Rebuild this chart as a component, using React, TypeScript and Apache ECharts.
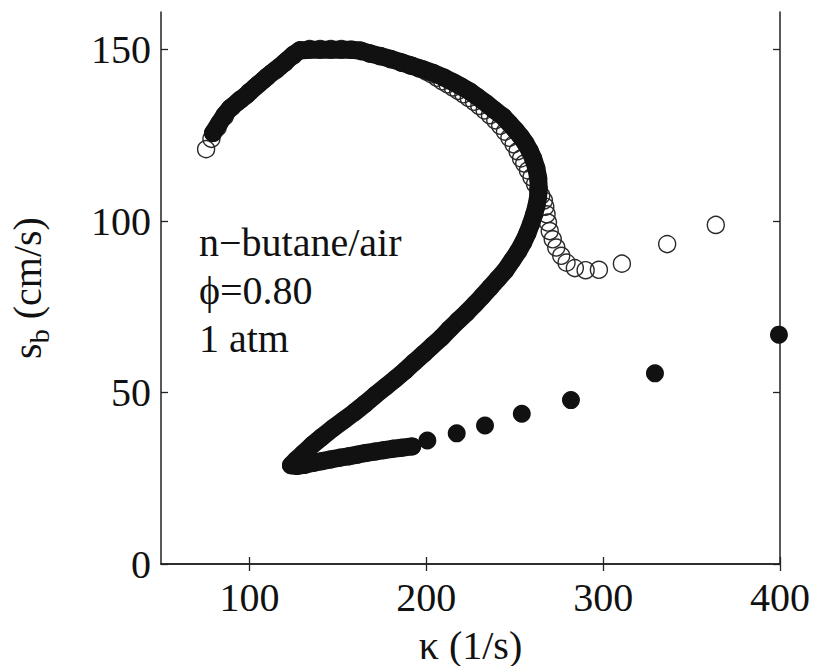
import React, { useEffect, useRef } from "react";
import * as echarts from "echarts";

const xTicks = [100, 200, 300, 400];
const yTicks = [0, 50, 100, 150];

// dense part of the filled-circle series (kappa, s_b)
const filledDense: [number, number][] = [
  [79.4, 125.7], [83, 128.6], [86, 131], [89, 132.9], [93.5, 134.8], [98.6, 136.9],
  [103, 139], [108, 141.2], [112.5, 143.2], [117.3, 145.1], [121, 146.8], [125, 148.6],
  [128.6, 149.8], [134, 150], [140, 150], [146, 150], [152, 150], [157, 150],
  [162.5, 149.8], [168.2, 148.9], [173.8, 148.2], [180, 147.3], [186, 146.3], [192, 145.3],
  [198, 144.3], [204, 143.2], [210, 141.9], [215, 140.6], [220, 139.2], [224.7, 137.8],
  [229, 136.2], [234, 134.3], [238.5, 132.4], [243.4, 130.5], [247, 128.5], [250.5, 126.5],
  [253.5, 124.6], [256, 122.8], [258.5, 120.5], [260.5, 118.2], [262.2, 115.5], [263.3, 112.5],
  [263.6, 109.5], [263.2, 107], [262.3, 104.5], [261, 102], [259.3, 99.3], [257.2, 96.5],
  [254.8, 93.8], [252, 91.2], [248.5, 88.5], [244.5, 85.5], [240.5, 83.2], [236, 80.6],
  [231.5, 78], [227.5, 75.8], [223, 73.4], [218, 71], [213.3, 68.6], [208.7, 66.1],
  [203.5, 63.7], [198.5, 61.3], [193, 58.8], [188, 56.4], [182.5, 54], [177, 51.7],
  [171, 49.2], [165.3, 46.7], [159.5, 44.3], [153.5, 42], [147, 39.5], [140.9, 37],
  [135.5, 34.7], [130.5, 32.3], [126.5, 30.4], [123.5, 28.8], [127, 28.6], [131, 28.9],
  [136, 29.5], [141, 30], [146, 30.5], [151, 31], [156, 31.4], [161, 31.9],
  [166, 32.4], [171, 32.8], [176, 33.2], [181, 33.6], [186, 33.9], [192, 34.3],
];

// sparse tail of the filled-circle series
const filledSparse: [number, number][] = [
  [200.6, 36], [217.2, 38.1], [233.2, 40.4], [254, 43.8], [281.8, 47.8], [329.3, 55.6], [399.4, 66.9],
];

// open-circle series
const openCircles: [number, number][] = [
  [75.5, 121], [78.5, 124], [82, 127.3], [86, 130.5], [90, 133.2], [95, 135.5],
  [100, 137.7], [105, 139.9], [110, 142.1], [115, 144.1], [120, 146.2], [124.5, 148.2],
  [128.5, 149.8], [134, 150.2], [140, 150.2], [146, 150.2], [152, 150.2], [158, 150],
  [163, 149.6], [168, 148.9], [174, 148.1], [180, 147.2], [186, 146.2], [191, 145.4],
  [196, 144.5], [200, 143.6], [203, 142.8], [206, 141.8], [209, 140.8], [212, 139.9],
  [215, 139], [218, 138], [221, 137], [224, 135.9], [227, 134.8], [230, 133.6],
  [233, 132.3], [236, 130.9], [239, 129.4], [241.8, 127.8], [244.5, 126.1], [247, 124.3],
  [249.4, 122.4], [251.6, 120.4], [253.6, 118.3], [255.4, 116.8], [257.5, 114.8], [259.5, 112.8],
  [261.5, 110.8], [263.3, 109], [265, 107.5], [266.5, 106], [267.3, 104.2], [268, 102],
  [268.8, 99.6], [269.8, 97.1], [271.5, 94.7], [273.5, 92.3], [276.3, 89.9], [279.3, 87.9],
  [284, 86.3], [290.1, 85.7], [297.6, 85.8], [310.6, 87.6], [336.2, 93.3], [363.7, 98.9],
];

const annotationLines = ["n\u2212butane/air", "\u03d5=0.80", "1 atm"];

const FONT = '"Liberation Serif", "Times New Roman", serif';
const INK = "#111";

export default function App() {
  const ref = useRef<HTMLDivElement>(null);
  useEffect(() => {
    document.body.style.margin = "0";
    const chart = echarts.init(ref.current!, null, { renderer: "svg" });
    const axisLine = { show: true, lineStyle: { color: "#222", width: 1.5 } };
    const tickStyle = { color: "#222", width: 1.3 };
    chart.setOption({
      animation: false,
      backgroundColor: "#fff",
      grid: { left: 161, right: 34, top: 12, bottom: 102, containLabel: false, outerBoundsMode: "none" },
      xAxis: [
        {
          type: "value", position: "bottom", min: 50, max: 400,
          axisLine,
          axisTick: { inside: true, length: 7, customValues: xTicks, lineStyle: tickStyle },
          axisLabel: { customValues: xTicks, fontSize: 40, fontFamily: FONT, color: INK, margin: 13 },
          splitLine: { show: false },
          name: "\u03ba (1/s)", nameLocation: "middle", nameGap: 61,
          nameTextStyle: { fontSize: 40, fontFamily: FONT, color: INK },
        },
        {
          type: "value", position: "top", min: 50, max: 400,
          axisLine,
          axisTick: { inside: true, length: 7, customValues: xTicks, lineStyle: tickStyle },
          axisLabel: { show: false },
          splitLine: { show: false },
        },
      ],
      yAxis: [
        {
          type: "value", position: "left", min: 0, max: 161,
          axisLine,
          axisTick: { inside: true, length: 7, customValues: yTicks, lineStyle: tickStyle },
          axisLabel: { customValues: yTicks, fontSize: 40, fontFamily: FONT, color: INK, margin: 10 },
          splitLine: { show: false },
          name: "{a|s}{b|b}{a| (cm/s)}", nameLocation: "middle", nameGap: 108,
          nameTextStyle: {
            fontFamily: FONT, color: INK, fontSize: 40,
            rich: {
              a: { fontFamily: FONT, color: INK, fontSize: 40, lineHeight: 46, verticalAlign: "top", padding: [0, 0, 0, 0] },
              b: { fontFamily: FONT, color: INK, fontSize: 28, lineHeight: 46, verticalAlign: "bottom", padding: [14, 0, 0, 0] },
            },
          },
        },
        {
          type: "value", position: "right", min: 0, max: 161,
          axisLine,
          axisTick: { inside: true, length: 7, customValues: yTicks, lineStyle: tickStyle },
          axisLabel: { show: false },
          splitLine: { show: false },
        },
      ],
      graphic: annotationLines.map((t, i) => ({
        type: "text",
        left: 199,
        top: 222 + i * 48,
        style: { text: t, font: `40px ${FONT}`, fill: INK },
      })),
      series: [
        {
          name: "open", type: "scatter", xAxisIndex: 0, yAxisIndex: 0,
          data: openCircles, symbol: "circle", symbolSize: 17, z: 2,
          itemStyle: { color: "rgba(0,0,0,0)", borderColor: "#2a2a2a", borderWidth: 1.4, opacity: 1 },
        },
        {
          name: "filled", type: "line", xAxisIndex: 0, yAxisIndex: 0,
          data: filledDense, symbol: "circle", symbolSize: 18, showSymbol: true, z: 3,
          lineStyle: { color: INK, width: 18, cap: "round", join: "round" },
          itemStyle: { color: INK, opacity: 1 },
        },
        {
          name: "filledTail", type: "scatter", xAxisIndex: 0, yAxisIndex: 0,
          data: filledSparse, symbol: "circle", symbolSize: 18, z: 3,
          itemStyle: { color: INK, opacity: 1 },
        },
      ],
    });
    return () => chart.dispose();
  }, []);
  return <div ref={ref} style={{ width: 814, height: 666 }} />;
}
